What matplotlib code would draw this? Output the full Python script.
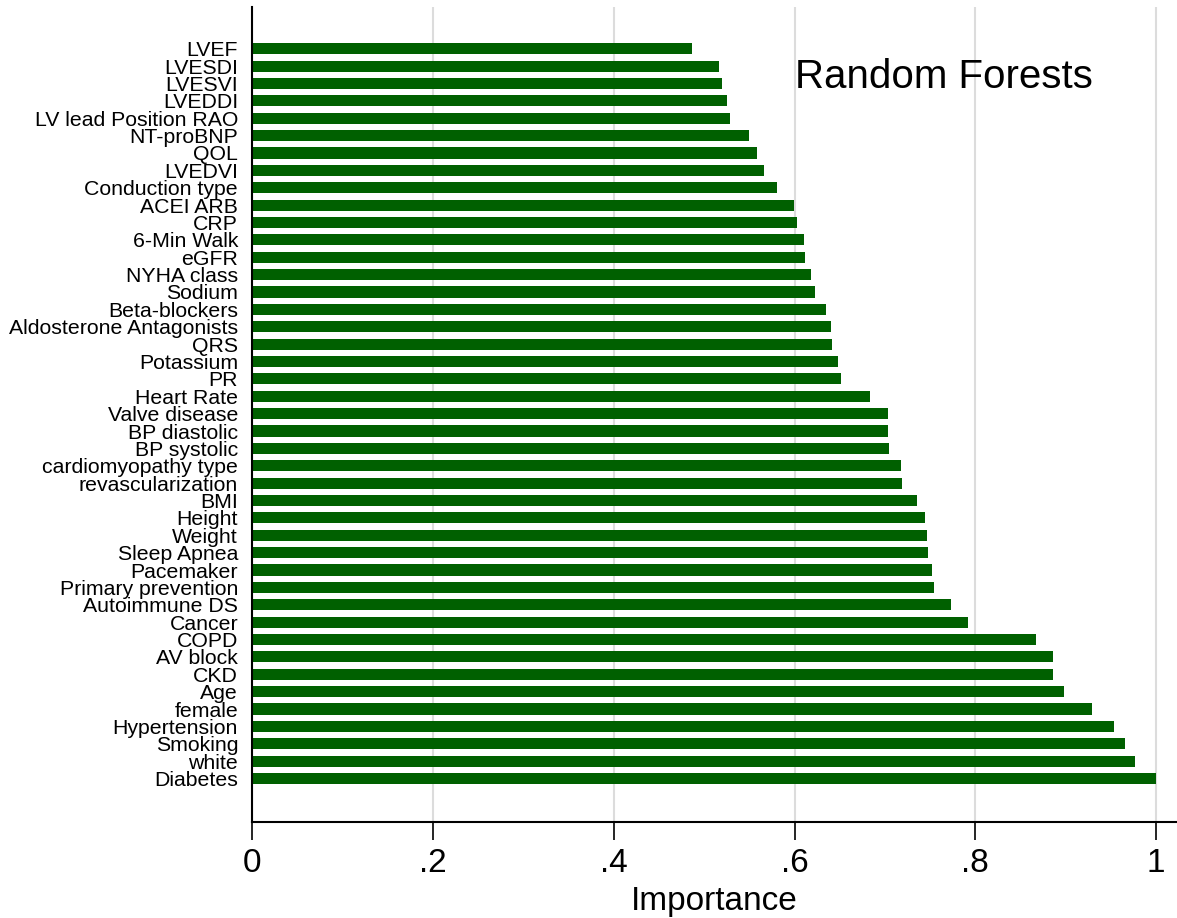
import matplotlib as mpl
from matplotlib import pyplot as plt
import numpy as np

mpl.rcParams["font.family"] = ["Liberation Sans", "DejaVu Sans"]

# variable names, top to bottom as drawn
features = ['LVEF', 'LVESDI', 'LVESVI', 'LVEDDI', 'LV lead Position RAO',
            'NT-proBNP', 'QOL', 'LVEDVI', 'Conduction type', 'ACEI ARB',
            'CRP', '6-Min Walk', 'eGFR', 'NYHA class', 'Sodium',
            'Beta-blockers', 'Aldosterone Antagonists', 'QRS', 'Potassium', 'PR',
            'Heart Rate', 'Valve disease', 'BP diastolic', 'BP systolic',
            'cardiomyopathy type', 'revascularization', 'BMI', 'Height', 'Weight',
            'Sleep Apnea', 'Pacemaker', 'Primary prevention', 'Autoimmune DS',
            'Cancer', 'COPD', 'AV block', 'CKD', 'Age', 'female', 'Hypertension',
            'Smoking', 'white', 'Diabetes']
# importance (scaled to the max)
importance = [0.487, 0.517, 0.520, 0.525, 0.529,
              0.550, 0.558, 0.566, 0.581, 0.599,
              0.603, 0.610, 0.612, 0.618, 0.623,
              0.635, 0.640, 0.642, 0.648, 0.651,
              0.683, 0.703, 0.703, 0.705,
              0.718, 0.719, 0.736, 0.744, 0.747,
              0.748, 0.752, 0.754, 0.773,
              0.792, 0.867, 0.886, 0.886, 0.898, 0.929, 0.953,
              0.966, 0.977, 1.000]

fig = plt.figure(figsize=(11.77, 9.18), dpi=100)
ax = fig.add_axes([252 / 1177, 1 - 822 / 918, (1177 - 252) / 1177, (822 - 7) / 918])

pos = np.arange(len(features))
ax.barh(pos, importance, height=0.64, color='#006000')

ax.set_ylim(len(features) - 1 + 2.5, -2.4)
ax.set_xlim(0, 1.023)
ax.set_yticks(pos)
ax.set_yticklabels(features, fontsize=15.3)
ax.tick_params(axis='y', length=0, pad=10)

ax.set_xticks([0, 0.2, 0.4, 0.6, 0.8, 1])
ax.set_xticklabels(['0', '.2', '.4', '.6', '.8', '1'], fontsize=24)
ax.tick_params(axis='x', length=13, width=1.2, pad=6)
ax.set_xlabel('Importance', fontsize=24, labelpad=5)

ax.grid(axis='x', color='#dcdcdc', linewidth=1.5)
ax.set_axisbelow(True)
for s in ['top', 'right']:
    ax.spines[s].set_visible(False)
ax.spines['left'].set_linewidth(1.5)
ax.spines['bottom'].set_linewidth(1.5)

ax.text(0.6, 1.6, 'Random Forests', fontsize=29, va='center', ha='left')

plt.savefig('out.png', dpi=100)
